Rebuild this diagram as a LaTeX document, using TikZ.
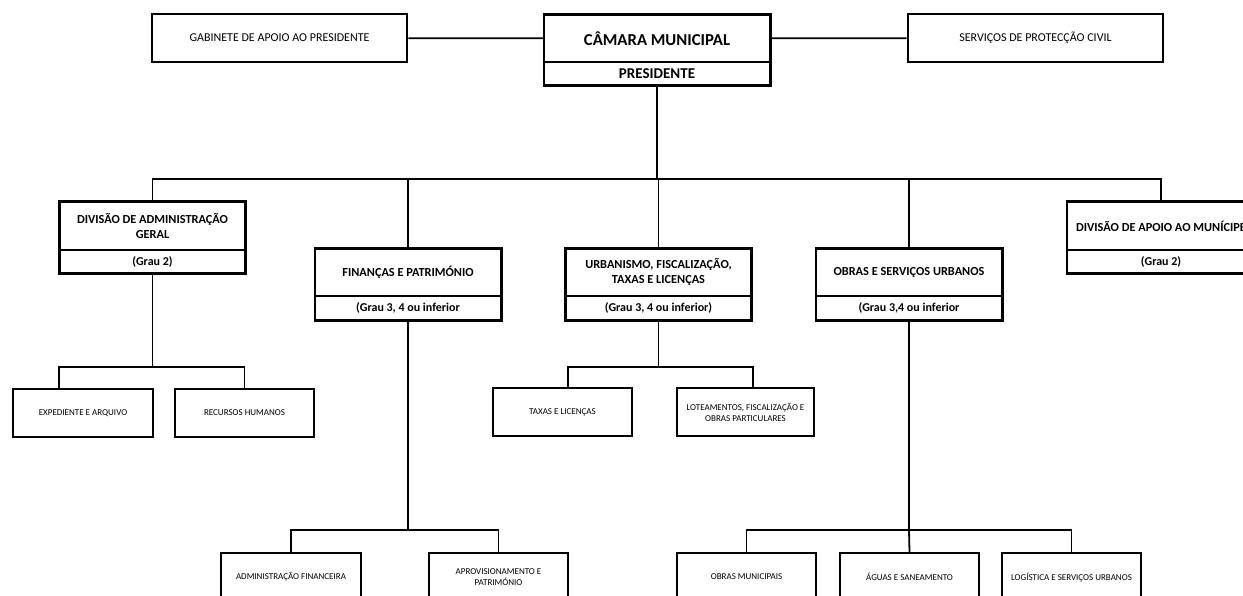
\documentclass[tikz,border=0pt]{standalone}
\usepackage{fontspec}
\setmainfont{Carlito}
\usetikzlibrary{positioning}

\begin{document}
\begin{tikzpicture}[x=1pt,y=-1pt,inner sep=0pt,align=center,
    frame/.style={line width=2.6pt},
    link/.style={line width=1.8pt},
    side/.style={draw,line width=2.6pt,minimum width=255pt,minimum height=48pt,font=\fontsize{12}{14}\selectfont},
    head/.style={minimum width=186pt,minimum height=48pt,font=\bfseries\fontsize{12.3}{15}\selectfont},
    grau/.style={minimum width=186pt,minimum height=24pt,anchor=north,font=\bfseries\fontsize{12}{14}\selectfont},
    unit/.style={draw,line width=1.6pt,minimum width=139pt,minimum height=48pt,font=\fontsize{9}{11}\selectfont}]
    \useasboundingbox (0,0) rectangle (1243,596);

    \node[side] (G) at (279.5,38) {GABINETE DE APOIO AO PRESIDENTE};
    \node[head,minimum width=226pt,minimum height=47pt,font=\bfseries\fontsize{16.7}{18}\selectfont] (C) at (657,38.5) {CÂMARA MUNICIPAL};
    \node[grau,minimum width=226pt,minimum height=23pt,font=\bfseries\fontsize{15}{17}\selectfont] (P) at (C.south) {PRESIDENTE};
    \node[side] (S) at (1035.5,38) {SERVIÇOS DE PROTECÇÃO CIVIL};

    \node[head] (DA) at (152.5,226) {DIVISÃO DE ADMINISTRAÇÃO\\ GERAL};
    \node[grau,minimum height=23pt] (gDA) at (DA.south) {(Grau 2)};
    \node[head,minimum height=47pt] (FP) at (408,272.5) {FINANÇAS E PATRIMÓNIO};
    \node[grau] (gFP) at (FP.south) {(Grau 3, 4 ou inferior};
    \node[head,minimum height=47pt] (UF) at (658.5,272.5) {URBANISMO, FISCALIZAÇÃO,\\ TAXAS E LICENÇAS};
    \node[grau] (gUF) at (UF.south) {(Grau 3, 4 ou inferior)};
    \node[head,minimum height=47pt] (OS) at (909,272.5) {OBRAS E SERVIÇOS URBANOS};
    \node[grau] (gOS) at (OS.south) {(Grau 3,4 ou inferior};
    \node[head,minimum width=188pt] (DM) at (1161,226) {DIVISÃO DE APOIO AO MUNÍCIPE};
    \node[grau,minimum width=188pt,minimum height=23pt] (gDM) at (DM.south) {(Grau 2)};

    \node[unit,minimum width=140pt] (EA) at (83,413) {EXPEDIENTE E ARQUIVO};
    \node[unit] (RH) at (244.5,413) {RECURSOS HUMANOS};
    \node[unit] (TL) at (562.5,412) {TAXAS E LICENÇAS};
    \node[unit,minimum width=137pt] (LF) at (745.5,412) {LOTEAMENTOS, FISCALIZAÇÃO E\\ OBRAS PARTICULARES};

    \node[unit,minimum width=140pt] (AF) at (291,577) {ADMINISTRAÇÃO FINANCEIRA};
    \node[unit] (AP) at (498.5,577) {APROVISIONAMENTO E\\ PATRIMÓNIO};
    \node[unit] (OM) at (746.5,577) {OBRAS MUNICIPAIS};
    \node[unit] (AS) at (909.5,577) {ÁGUAS E SANEAMENTO};
    \node[unit] (LS) at (1071.5,577) {LOGÍSTICA E SERVIÇOS URBANOS};

    % frames of the split boxes
    \draw[frame] (C.north west) rectangle (P.south east);
    \draw[link] (C.south west) -- (C.south east);
    \draw[frame] (DA.north west) rectangle (gDA.south east);
    \draw[link] (DA.south west) -- (DA.south east);
    \draw[frame] (FP.north west) rectangle (gFP.south east);
    \draw[link] (FP.south west) -- (FP.south east);
    \draw[frame] (UF.north west) rectangle (gUF.south east);
    \draw[link] (UF.south west) -- (UF.south east);
    \draw[frame] (OS.north west) rectangle (gOS.south east);
    \draw[link] (OS.south west) -- (OS.south east);
    \draw[frame] (DM.north west) rectangle (gDM.south east);
    \draw[link] (DM.south west) -- (DM.south east);

    % paths from the president
    \coordinate (b0) at (657,179);
    \draw[link] (G) -- (C);
    \draw[link] (C) -- (S);
    \draw[link] (P.south) -- (P.south |- b0);
    \draw[link] (P.south |- b0) -| (DA.north);
    \draw[link] (P.south |- b0) -| (FP.north);
    \draw[link] (P.south |- b0) -| (UF.north);
    \draw[link] (P.south |- b0) -| (OS.north);
    \draw[link] (P.south |- b0) -| (DM.north);

    % paths to the units
    \coordinate (b1) at (153,367);
    \draw[link] (gDA.south) -- (gDA.south |- b1);
    \draw[link] (gDA.south |- b1) -| ([xshift=-24pt]EA.north);
    \draw[link] (gDA.south |- b1) -| (RH.north);
    \coordinate (b2) at (658,367);
    \draw[link] (gUF.south) -- (gUF.south |- b2);
    \draw[link] (gUF.south |- b2) -| ([xshift=5.5pt]TL.north);
    \draw[link] (gUF.south |- b2) -| ([xshift=7.5pt]LF.north);
    \coordinate (b3) at (408,530);
    \draw[link] (gFP.south) -- (gFP.south |- b3);
    \draw[link] (gFP.south |- b3) -| (AF.north);
    \draw[link] (gFP.south |- b3) -| (AP.north);
    \coordinate (b4) at (909,530);
    \draw[link] (gOS.south) -- (gOS.south |- b4);
    \draw[link] (gOS.south |- b4) -| (OM.north);
    \draw[link] (gOS.south |- b4) -- (AS.north);
    \draw[link] (gOS.south |- b4) -| (LS.north);
\end{tikzpicture}
\end{document}
